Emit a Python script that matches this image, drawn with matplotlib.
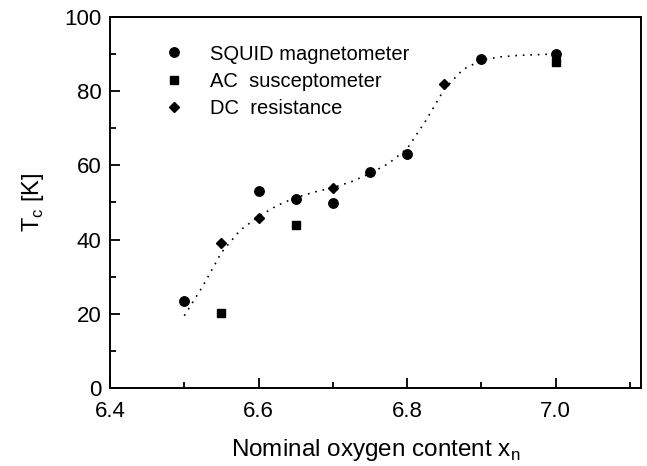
import numpy as np
import matplotlib
matplotlib.use("Agg")
import matplotlib.pyplot as plt
from matplotlib.ticker import MultipleLocator, FormatStrFormatter

plt.rcParams['font.family'] = ['Liberation Sans', 'DejaVu Sans']

# Data
squid_x = [6.50, 6.60, 6.65, 6.70, 6.75, 6.80, 6.90, 7.00]
squid_y = [23.4, 53.0, 50.9, 49.9, 58.1, 63.0, 88.5, 90.1]
ac_x = [6.55, 6.65, 7.00]
ac_y = [20.3, 43.9, 87.8]
dc_x = [6.55, 6.60, 6.70, 6.85]
dc_y = [39.1, 45.8, 54.0, 81.9]

# dotted guide curve
guide_x = [6.50, 6.525, 6.55, 6.575, 6.60, 6.625, 6.65, 6.675, 6.70, 6.725, 6.75,
           6.775, 6.80, 6.825, 6.85, 6.875, 6.90, 6.925, 6.95, 6.975, 7.00]
guide_y = [19.5, 27.5, 36.5, 42.5, 46.2, 49.2, 51.3, 52.8, 54.0, 55.6, 57.8,
           60.5, 64.5, 72.0, 80.5, 85.8, 88.3, 89.2, 89.6, 89.8, 90.0]

fig = plt.figure(figsize=(6.47, 4.66), dpi=100)
ax = fig.add_axes([0.170, 0.167, 0.821, 0.797])

ax.plot(guide_x, guide_y, color='black', lw=1.2, linestyle=(0, (1, 3.5)))
ax.plot(squid_x, squid_y, 'o', color='black', ms=6.8, label='SQUID magnetometer')
ax.plot(ac_x, ac_y, 's', color='black', ms=6.3, label='AC  susceptometer')
ax.plot(dc_x, dc_y, 'D', color='black', ms=5.2, label='DC  resistance')

ax.set_xlim(6.4, 7.115)
ax.set_ylim(0, 100)
ax.xaxis.set_major_locator(MultipleLocator(0.2))
ax.xaxis.set_minor_locator(MultipleLocator(0.1))
ax.yaxis.set_major_locator(MultipleLocator(20))
ax.yaxis.set_minor_locator(MultipleLocator(10))
ax.xaxis.set_major_formatter(FormatStrFormatter('%.1f'))
ax.tick_params(which='both', direction='in', labelsize=16, width=1.3)
ax.tick_params(which='major', length=7)
ax.tick_params(which='minor', length=4)
ax.tick_params(axis='x', which='major', pad=9)
ax.tick_params(axis='y', which='major', pad=6)
for s in ax.spines.values():
    s.set_linewidth(1.4)

ax.set_xlabel(r'Nominal oxygen content x$_\mathregular{n}$', fontsize=17.5, labelpad=11)
ax.set_ylabel(r'T$_\mathregular{c}$ [K]', fontsize=17, labelpad=13)

ax.legend(loc='upper left', bbox_to_anchor=(0.086, 0.947), frameon=False,
          fontsize=14.5, handlelength=1.0, handletextpad=1.3, labelspacing=0.42,
          borderaxespad=0)

fig.savefig('out.png', dpi=100)
